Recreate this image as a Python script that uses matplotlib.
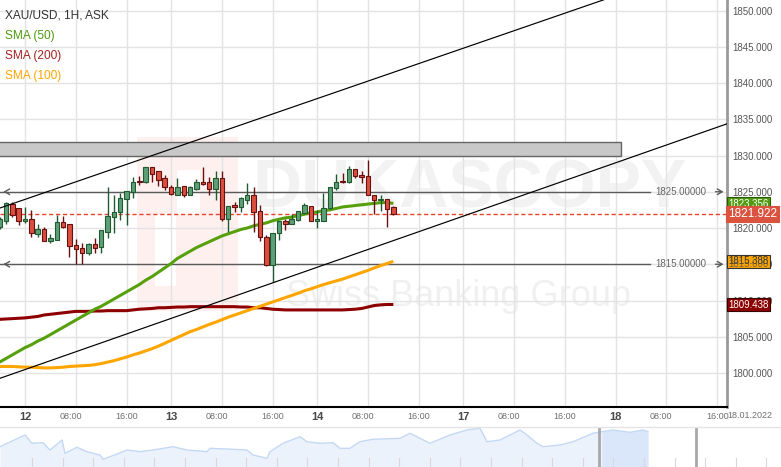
import matplotlib
matplotlib.use("Agg")
import matplotlib.pyplot as plt
from matplotlib.lines import Line2D
from matplotlib.patches import Rectangle
import matplotlib.transforms as mtransforms
import numpy as np

# hourly XAU/USD candles, bar 0 = 12 Jan 00:00
first_bar = -4
opens = [1820.2, 1821.0, 1823.3, 1822.7, 1821.0, 1821.2, 1819.2, 1819.8, 1818.2, 1818.4,
         1820.8, 1820.5, 1817.7, 1817.2, 1816.5, 1817.8, 1817.4, 1819.5, 1821.5, 1822.2,
         1824.0, 1824.9, 1826.5, 1826.3, 1828.4, 1827.9, 1826.9, 1825.7, 1824.6, 1825.8,
         1824.6, 1825.4, 1826.3, 1826.3, 1825.4, 1826.9, 1821.3, 1823.2, 1822.9, 1823.8,
         1824.6, 1822.3, 1818.8, 1814.9, 1819.3, 1821.0, 1820.6, 1821.1, 1822.1, 1823.0,
         1821.0, 1821.0, 1822.7, 1825.5, 1826.5, 1826.3, 1828.1, 1827.3, 1827.2, 1824.6,
         1823.8, 1824.0, 1822.9]
highs = [1821.5, 1823.6, 1823.6, 1822.8, 1822.9, 1822.5, 1820.6, 1820.2, 1819.2, 1821.8,
         1821.7, 1820.6, 1818.5, 1817.9, 1818.0, 1818.6, 1819.7, 1825.7, 1824.6, 1824.8,
         1825.1, 1827.1, 1827.2, 1828.4, 1828.4, 1827.9, 1827.3, 1826.0, 1826.9, 1825.8,
         1825.8, 1826.8, 1828.4, 1827.1, 1827.9, 1827.9, 1823.1, 1823.6, 1824.3, 1826.2,
         1825.6, 1823.2, 1819.0, 1819.3, 1821.0, 1821.3, 1822.0, 1822.3, 1823.4, 1823.0,
         1822.5, 1824.8, 1825.6, 1827.5, 1827.6, 1828.5, 1828.1, 1827.9, 1829.4, 1824.6,
         1824.6, 1824.0, 1823.0]
lows = [1819.9, 1820.6, 1821.5, 1820.4, 1820.7, 1818.8, 1818.8, 1818.2, 1817.9, 1818.4,
        1820.0, 1816.0, 1815.1, 1815.1, 1816.3, 1816.6, 1816.6, 1818.6, 1819.3, 1821.1,
        1820.4, 1824.2, 1826.0, 1826.2, 1826.3, 1825.8, 1825.2, 1824.6, 1824.6, 1824.3,
        1824.5, 1825.3, 1825.9, 1824.6, 1823.9, 1821.0, 1819.4, 1822.2, 1822.2, 1823.3,
        1819.4, 1818.2, 1814.7, 1812.6, 1818.4, 1819.7, 1820.6, 1820.9, 1822.0, 1821.0,
        1820.0, 1820.9, 1822.6, 1825.2, 1826.2, 1826.2, 1826.9, 1826.2, 1824.6, 1822.0,
        1822.3, 1820.2, 1821.8]
closes = [1821.2, 1823.4, 1821.8, 1821.0, 1821.2, 1819.3, 1819.9, 1818.2, 1818.6, 1820.8,
          1820.2, 1817.5, 1817.1, 1816.5, 1817.8, 1817.3, 1819.7, 1821.6, 1822.2, 1824.1,
          1825.1, 1826.4, 1826.3, 1828.4, 1827.5, 1826.6, 1825.6, 1824.7, 1825.7, 1824.6,
          1825.6, 1826.3, 1826.1, 1825.4, 1826.9, 1821.2, 1823.1, 1822.9, 1824.1, 1824.6,
          1822.2, 1818.7, 1814.9, 1819.3, 1821.0, 1820.6, 1821.3, 1822.3, 1823.2, 1821.0,
          1821.2, 1822.7, 1825.6, 1826.4, 1826.3, 1828.1, 1827.2, 1827.0, 1824.6, 1823.8,
          1824.0, 1822.6, 1821.9]

sma50 = [1801.5, 1802.0, 1802.5, 1803.0, 1803.5, 1803.9, 1804.4, 1804.8, 1805.3, 1805.8,
         1806.3, 1806.8, 1807.3, 1807.8, 1808.3, 1808.8, 1809.2, 1809.7, 1810.2, 1810.7,
         1811.2, 1811.7, 1812.2, 1812.8, 1813.3, 1813.9, 1814.5, 1815.1, 1815.8, 1816.3,
         1816.8, 1817.3, 1817.7, 1818.1, 1818.5, 1818.9, 1819.2, 1819.5, 1819.8, 1820.0,
         1820.3, 1820.5, 1820.7, 1821.0, 1821.2, 1821.4, 1821.5, 1821.7, 1821.9, 1822.1,
         1822.2, 1822.4, 1822.5, 1822.7, 1822.9, 1823.0, 1823.1, 1823.2, 1823.3, 1823.4,
         1823.5, 1823.5, 1823.4]
sma100 = [1800.9, 1800.9, 1800.9, 1800.85, 1800.8, 1800.8, 1800.75, 1800.7, 1800.7, 1800.75,
          1800.8, 1800.9, 1800.95, 1801.0, 1801.05, 1801.15, 1801.3, 1801.5, 1801.7, 1801.95,
          1802.2, 1802.5, 1802.75, 1803.05, 1803.35, 1803.7, 1804.1, 1804.5, 1804.9, 1805.3,
          1805.7, 1806.0, 1806.35, 1806.7, 1807.0, 1807.35, 1807.7, 1808.0, 1808.3, 1808.6,
          1808.9, 1809.2, 1809.5, 1809.8, 1810.1, 1810.4, 1810.7, 1811.0, 1811.35, 1811.6,
          1811.9, 1812.2, 1812.45, 1812.7, 1812.95, 1813.25, 1813.55, 1813.85, 1814.15, 1814.5,
          1814.8, 1815.1, 1815.4]
sma200 = [1807.4, 1807.45, 1807.5, 1807.55, 1807.6, 1807.7, 1807.8, 1808.0, 1808.1, 1808.2,
          1808.3, 1808.4, 1808.5, 1808.5, 1808.5, 1808.55, 1808.55, 1808.6, 1808.6, 1808.6,
          1808.6, 1808.7, 1808.8, 1808.85, 1808.9, 1809.0, 1809.0, 1809.05, 1809.1, 1809.1,
          1809.15, 1809.15, 1809.15, 1809.15, 1809.15, 1809.15, 1809.15, 1809.15, 1809.1, 1809.1,
          1809.0, 1809.0, 1808.9, 1808.8, 1808.75, 1808.7, 1808.7, 1808.7, 1808.7, 1808.7,
          1808.7, 1808.7, 1808.7, 1808.7, 1808.7, 1808.75, 1808.8, 1808.9, 1809.1, 1809.3,
          1809.4, 1809.45, 1809.45]

# time axis (bar numbers, gold skips one hour per day; weekend removed)
tick_bars = [0, 8, 16, 23, 31, 39, 46, 54, 62, 69, 77, 85, 93, 101, 109]
tick_labels = ["12", "08:00", "16:00", "13", "08:00", "16:00", "14", "08:00", "16:00",
               "17", "08:00", "16:00", "18", "08:00", "16:00"]
price_ticks = [1800, 1805, 1810, 1815, 1820, 1825, 1830, 1835, 1840, 1845, 1850]

# drawn objects
levels = [1825.0, 1815.0]
zone_low, zone_high, zone_end = 1830.0, 1831.8, 93.9
upper_channel = ([-4, 111], [1822.74, 1857.48])
lower_channel = ([-4, 111], [1799.25, 1834.51])
last_price = 1821.922
sma_last = {"50": 1823.356, "100": 1815.388, "200": 1809.438}

# navigator history strip
nav_pos = [0, 25, 32, 43, 50, 62, 65, 77, 87, 100, 103, 117, 127, 140, 153, 173, 187, 207,
           210, 233, 247, 253, 267, 270, 283, 300, 307, 320, 333, 340, 350, 360, 373, 400,
           410, 430, 450, 467, 480, 487, 500, 520, 527, 537, 543, 560, 573, 593, 602, 613,
           630, 643, 648]
nav_val = [20.3, 32, 23.7, 24.3, 17, 27, 13.7, 19.7, 15.3, 12, 7.7, 13, 17, 15.3, 17, 20.3,
           17, 15.3, 18.7, 17.7, 17, 12, 8.7, 15.3, 23.7, 30.3, 25.3, 23.7, 24.3, 18.7, 18.7,
           25.3, 27.7, 28.7, 33.7, 23.7, 32, 37, 38.7, 25.3, 27, 37, 32, 23.7, 20.3, 22, 25.3,
           33.7, 35.3, 37, 34.7, 37, 35.3]
nav_window_start = 599

colors = {
    "up": "#5e9f79",
    "up_edge": "#1f5a30",
    "down": "#d9503f",
    "down_edge": "#6a1010",
    "sma50": "#56a00c",
    "sma100": "#ffa500",
    "sma200": "#8e0000",
    "grid": "#e3e3e3",
}

W, H = 781, 467


def create_chart():
    plt.rcParams["font.family"] = ["Liberation Sans", "DejaVu Sans"]
    fig = plt.figure(figsize=(W / 100, H / 100), dpi=100, facecolor="white")

    # watermark behind everything
    fig.text(470 / W, 1 - 190 / H, "DUKASCOPY", fontsize=49, fontweight="bold",
             color="#f2f2f2", ha="center", va="center", zorder=0)
    fig.text(458 / W, 1 - 306 / H, "Swiss Banking Group", fontsize=26,
             color="#f0f0f0", ha="center", va="baseline", zorder=0)

    ax = fig.add_axes([0, 60 / H, 727 / W, 407 / H], zorder=1)
    ax.patch.set_alpha(0)
    ax.set_xlim(-3.94, 110.55)
    ax.set_ylim(1795.31, 1851.45)

    # logo block of the watermark
    ax.add_patch(Rectangle((17.6, 1808.55), 15.9, 24.0, fc="#fdf0ef", ec="none", zorder=0))
    ax.add_patch(Rectangle((24.0, 1822.0), 3.5, 6.0, fc="white", ec="none", zorder=0))
    ax.add_patch(Rectangle((20.5, 1812.0), 3.3, 10.0, fc="white", ec="none", zorder=0))

    ax.grid(True, color=colors["grid"], lw=1, zorder=0)
    ax.set_axisbelow(True)

    x = np.arange(len(opens)) + first_bar
    o, h, l, c = map(np.array, (opens, highs, lows, closes))
    up = c >= o

    # resistance zone
    ax.add_patch(Rectangle((-10, zone_low), zone_end + 10, zone_high - zone_low,
                           fc="#c8c8c8", ec="#666666", lw=1, zorder=2))

    # horizontal levels with labels
    for lev in levels:
        ax.plot([-3.94, 98.4], [lev, lev], color="#5a5a5a", lw=1, zorder=2)
        ax.annotate("", xy=(-3.85, lev), xytext=(-2.6, lev),
                    arrowprops=dict(arrowstyle="->,head_length=0.35,head_width=0.2",
                                    color="#5a5a5a", lw=1))
        ax.text(99.3, lev, f"{lev:.5f}", fontsize=7, color="#666666", va="center", ha="left",
                zorder=3)
        ax.annotate("", xy=(110.45, lev), xytext=(108.3, lev),
                    arrowprops=dict(arrowstyle="->,head_length=0.35,head_width=0.2",
                                    color="#5a5a5a", lw=1), annotation_clip=False)

    ax.axhline(last_price, color="#e8412c", lw=1, ls=(0, (3, 2)), zorder=2.5)

    # moving averages
    ax.plot(x, sma200, color=colors["sma200"], lw=2.2, zorder=3, solid_capstyle="butt")
    ax.plot(x, sma100, color=colors["sma100"], lw=2.2, zorder=3, solid_capstyle="butt")
    ax.plot(x, sma50, color=colors["sma50"], lw=2.2, zorder=3, solid_capstyle="butt")

    # candles
    edge = np.where(up, colors["up_edge"], colors["down_edge"])
    ax.vlines(x, l, h, colors=edge, lw=1, zorder=4)
    body = np.maximum(np.abs(c - o), 0.15)
    ax.bar(x, body, bottom=np.minimum(o, c), width=0.7,
           color=np.where(up, colors["up"], colors["down"]),
           edgecolor=edge, linewidth=0.8, zorder=5)

    # channel
    ax.plot(*upper_channel, color="black", lw=0.85, zorder=6)
    ax.plot(*lower_channel, color="black", lw=0.85, zorder=6)

    # axes styling
    for side in ["top", "left"]:
        ax.spines[side].set_visible(False)
    ax.spines["bottom"].set_color("black")
    ax.spines["bottom"].set_linewidth(1.5)
    ax.spines["right"].set_color("#9a9a9a")
    ax.spines["right"].set_linewidth(2)

    ax.yaxis.tick_right()
    ax.set_yticks(price_ticks, [f"{p:.3f}" for p in price_ticks])
    ax.tick_params(axis="y", length=0, pad=4, labelsize=7, labelcolor="#555555")

    ax.set_xticks(tick_bars, tick_labels)
    ax.tick_params(axis="x", length=0, pad=3.5)
    shift = mtransforms.ScaledTranslation(-5 / 100, 0, fig.dpi_scale_trans)
    for lab in ax.get_xticklabels():
        if ":" in lab.get_text():
            lab.set_fontsize(6.5)
            lab.set_color("#707070")
            if lab.get_text() == "08:00":
                lab.set_transform(lab.get_transform() + shift)
        else:
            lab.set_fontsize(8)
            lab.set_fontweight("bold")
            lab.set_color("#484848")
    fig.text(727 / W, 1 - 416 / H, "18.01.2022", fontsize=6.5, color="#707070",
             ha="left", va="center")

    # price tags on the right scale
    tr = ax.get_yaxis_transform()

    def tag(val, txt, fc, tc, fs, ec):
        ax.text(1.0015, val, txt, transform=tr, ha="left", va="center", fontsize=fs,
                color=tc, clip_on=False, zorder=10,
                bbox=dict(boxstyle="square,pad=0.15", fc=fc, ec=ec, lw=0.8))

    tag(sma_last["50"], f"{sma_last['50']:.3f}", "#4f9a0e", "white", 7, "#2d5a08")
    tag(last_price, f"{last_price:.3f}", "#d9533f", "white", 8.5, "#d9533f")
    tag(sma_last["100"], f"{sma_last['100']:.3f}", "#ffa500", "#333333", 7, "#333333")
    ax.text(1.0015, 1815.0, "1815.000", transform=tr, ha="left", va="center", fontsize=7,
            color="#555555", clip_on=False, zorder=11, alpha=0.8)
    tag(sma_last["200"], f"{sma_last['200']:.3f}", "#8b0000", "white", 7, "#3a0000")

    # legend block
    legend = [("XAU/USD, 1H, ASK", "#333333"), ("SMA (50)", "#4f9a0e"),
              ("SMA (200)", "#a52222"), ("SMA (100)", "#ffa500")]
    for k, (txt, col) in enumerate(legend):
        fig.text(5 / W, 1 - (15.5 + 20.2 * k) / H, txt, fontsize=8.6, color=col,
                 ha="left", va="center", zorder=5)

    # separator and navigator strip
    fig.add_artist(Line2D([0, 1], [1 - 427 / H] * 2, color="#e4e4e4", lw=1,
                          transform=fig.transFigure))
    nav = fig.add_axes([0, 0, 1, 39 / H])
    nav.set_xlim(0, W)
    nav.set_ylim(0, 39)
    nav.axis("off")
    npos = np.array(nav_pos)
    nval = np.array(nav_val)
    nav.fill_between(npos, 0, nval, color="#ebf2fc", lw=0)
    win = npos >= nav_window_start - 4
    nav.fill_between(npos[win], 0, nval[win], color="#dae7fa", lw=0)
    nav.plot(npos, nval, color="#c4d8f4", lw=1)
    for t in np.arange(32, W, 30.6):
        nav.plot([t, t], [0, 9], color="#d8d8d8", lw=0.8)
    for t in [nav_window_start, 696]:
        nav.plot([t, t], [0, 39], color="#a8a8a8", lw=2)

    fig.savefig("out.png", dpi=100, facecolor="white")
    plt.close(fig)


if __name__ == "__main__":
    create_chart()
